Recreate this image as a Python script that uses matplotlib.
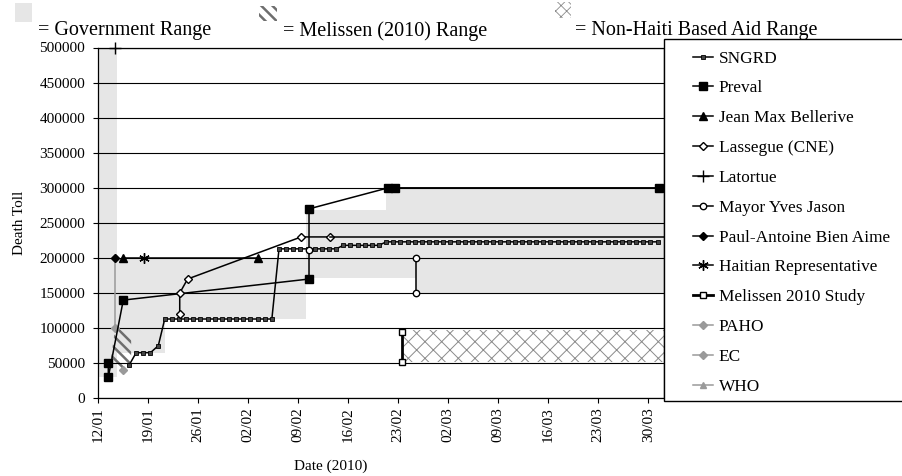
import numpy as np
import matplotlib
matplotlib.use("Agg")
import matplotlib.pyplot as plt
from matplotlib.patches import Rectangle

plt.rcParams['font.family'] = ['Liberation Serif', 'DejaVu Serif']

# x is days after 12/01/2010
TICK_DAYS = [0, 7, 14, 21, 28, 35, 42, 49, 56, 63, 70, 77]
TICK_LABELS = ['12/01', '19/01', '26/01', '02/02', '09/02', '16/02',
               '23/02', '02/03', '09/03', '16/03', '23/03', '30/03']
Y_TICKS = [0, 50000, 100000, 150000, 200000, 250000,
           300000, 350000, 400000, 450000, 500000]
X_END = 79.2

# --- estimates ----------------------------------------------------------
sngrd_days = np.concatenate([[4.3, 5.3, 6.3, 7.3, 8.4],
                             np.arange(9.3, 25.0),     # daily reports
                             np.arange(25.3, 34.0),
                             np.arange(34.3, 40.0),
                             np.arange(40.3, 79.0)])
sngrd_vals = ([47000, 65000, 65000, 65000, 75000]
              + [113000] * 16 + [213000] * 9 + [218000] * 6 + [223000] * 39)

preval_days = [1.4, 1.4, 3.5, 29.5, 29.5, 40.6, 41.5, 78.5]
preval_vals = [50000, 30000, 140000, 170000, 270000, 300000, 300000, 300000]

bellerive_days = [3.5, 22.4]
bellerive_vals = [200000, 200000]

lassegue_days = [11.4, 11.4, 12.5, 28.4, 32.4]
lassegue_vals = [120000, 150000, 170000, 230000, 230000]

latortue_days = [2.3]
latortue_vals = [500000]

jason_days = [29.5, np.nan, 44.5, 44.5]
jason_vals = [212000, np.nan, 200000, 150000]

bienaime_days = [2.4]
bienaime_vals = [200000]

rep_days = [6.4]
rep_vals = [200000]

melissen_days = [42.5, 42.5]
melissen_vals = [52000, 94000]

paho_days = [2.4, 2.4]
paho_vals = [100000, 200000]
ec_days = [3.5]
ec_vals = [40000]
who_days = [3.5]
who_vals = [200000]

# shaded ranges
gov_edges = [0, 2.6, 9.3, 29.1, 40.3, 44.5, X_END]
gov_low = [30000, 65000, 113000, 171000, 171000, 150000, 150000]
gov_high = [500000, 200000, 200000, 268000, 300000, 300000, 300000]

mel_range_days = [1.7, 2.4, 3.5, 4.6]
mel_range_low = [50000, 45000, 40000, 50000]
mel_range_high = [50000, 104000, 95000, 88000]

aid_range_days = [42.6, X_END]
aid_range_low = [52000, 52000]
aid_range_high = [97000, 97000]

# --- figure -------------------------------------------------------------
W, H = 902, 476
fig = plt.figure(figsize=(W / 100, H / 100), dpi=100)
ax = fig.add_axes([98.3 / W, 1 - 398.3 / H, (664 - 98.3) / W, (398.3 - 47.5) / H])

GOV_COLOR = '#e6e6e6'
GRAY = '#9a9a9a'


def hatch_lw(artist, lw):
    if hasattr(artist, 'set_hatch_linewidth'):
        artist.set_hatch_linewidth(lw)


ax.fill_between(gov_edges, gov_low, gov_high, step='post',
                facecolor=GOV_COLOR, edgecolor='none', linewidth=0, zorder=0.2)
aid = ax.fill_between(aid_range_days, aid_range_low, aid_range_high,
                      facecolor='white', edgecolor='#8a8a8a', hatch='xx',
                      linewidth=0, zorder=0.3)
hatch_lw(aid, 0.7)
mel = ax.fill_between(mel_range_days, mel_range_low, mel_range_high,
                      facecolor='none', edgecolor='#6e6e6e', hatch='\\\\\\',
                      linewidth=0, zorder=0.3)
hatch_lw(mel, 1.8)

handles = []
kw = dict(color='black', linewidth=1.1, zorder=3)
handles.append(ax.plot(sngrd_days, sngrd_vals, marker='s', markersize=3.2,
                       markerfacecolor='#444444', markeredgecolor='black',
                       markeredgewidth=0.6, label='SNGRD', **kw)[0])
handles.append(ax.plot(preval_days, preval_vals, marker='s', markersize=5.3,
                       label='Preval', **kw)[0])
handles.append(ax.plot(bellerive_days, bellerive_vals, marker='^', markersize=5.5,
                       label='Jean Max Bellerive', **kw)[0])
handles.append(ax.plot(lassegue_days, lassegue_vals, marker='D', markersize=4.3,
                       markerfacecolor='white', label='Lassegue (CNE)', **kw)[0])
# the last Lassegue figure carries on to the end of the period
ax.plot([lassegue_days[-1], X_END], [lassegue_vals[-1], lassegue_vals[-1]], **kw)
handles.append(ax.plot(latortue_days, latortue_vals, marker='+', markersize=8,
                       clip_on=False, label='Latortue', **kw)[0])
handles.append(ax.plot(jason_days, jason_vals, marker='o', markersize=4.6,
                       markerfacecolor='white', label='Mayor Yves Jason', **kw)[0])
handles.append(ax.plot(bienaime_days, bienaime_vals, marker='D', markersize=4.5,
                       label='Paul-Antoine Bien Aime', **kw)[0])
handles.append(ax.plot(rep_days, rep_vals, marker=(6, 2, 0), markersize=7.5,
                       label='Haitian Representative', **kw)[0])
handles.append(ax.plot(melissen_days, melissen_vals, marker='s', markersize=5,
                       markerfacecolor='white', color='black', linewidth=2,
                       zorder=3, label='Melissen 2010 Study')[0])
gkw = dict(color=GRAY, linewidth=1.1, zorder=2.5)
handles.append(ax.plot(paho_days, paho_vals, marker='D', markersize=4.2,
                       label='PAHO', **gkw)[0])
handles.append(ax.plot(ec_days, ec_vals, marker='D', markersize=4.2,
                       label='EC', **gkw)[0])
handles.append(ax.plot(who_days, who_vals, marker='^', markersize=5,
                       label='WHO', **gkw)[0])

ax.set_xlim(0, X_END)
ax.set_ylim(0, 500000)
ax.set_xticks(TICK_DAYS)
ax.set_xticklabels(TICK_LABELS, rotation=90, fontsize=11)
ax.set_yticks(Y_TICKS)
ax.set_yticklabels([str(v) for v in Y_TICKS], fontsize=11)
ax.tick_params(direction='out', length=3.5, width=0.8, color='black')
ax.tick_params(axis='y', pad=6)
ax.tick_params(axis='x', pad=3)
ax.set_axisbelow(True)
ax.yaxis.grid(True, color='black', linewidth=0.8)
for s in ax.spines.values():
    s.set_linewidth(0.9)

ax.set_ylabel('Death Toll', fontsize=11)
ax.yaxis.set_label_coords((26 - 98.3) / 565.7, 0.5)
ax.set_xlabel('Date (2010)', fontsize=11)
ax.xaxis.set_label_coords((331 - 98.3) / 565.7, -(460 - 398.3) / 350.8)

# legend box on the right
fig.patches.append(Rectangle((664 / W, 1 - 401 / H), 250 / W, 362 / H,
                             transform=fig.transFigure, facecolor='white',
                             edgecolor='black', linewidth=1, zorder=5))
leg = fig.legend(handles=handles, loc='upper left',
                 bbox_to_anchor=(693 / W, 1 - 50.5 / H), frameon=False,
                 fontsize=12.4, handlelength=1.15, handletextpad=0.35,
                 labelspacing=0.8, borderpad=0, borderaxespad=0)
leg.set_zorder(6)


# range key along the top
def key(x0, x1, y0, y1, **style):
    r = Rectangle((x0 / W, 1 - y1 / H), (x1 - x0) / W, (y1 - y0) / H,
                  transform=fig.transFigure, linewidth=0, **style)
    fig.patches.append(r)
    return r


key(15, 32, 3, 22, facecolor=GOV_COLOR, edgecolor='none')
hatch_lw(key(259, 277, 6, 21, facecolor='none', edgecolor='#6e6e6e',
             hatch='\\\\\\'), 1.8)
hatch_lw(key(555, 571, 2, 18, facecolor='white', edgecolor='#8a8a8a',
             hatch='xxx'), 0.6)
fig.text(38 / W, 1 - 31 / H, '= Government Range', fontsize=14.5, va='center')
fig.text(283 / W, 1 - 31 / H, '= Melissen (2010) Range', fontsize=14.5,
         va='center')
fig.text(575 / W, 1 - 31 / H, '= Non-Haiti Based Aid Range', fontsize=14.5,
         va='center')

fig.savefig('out.png', dpi=100)
